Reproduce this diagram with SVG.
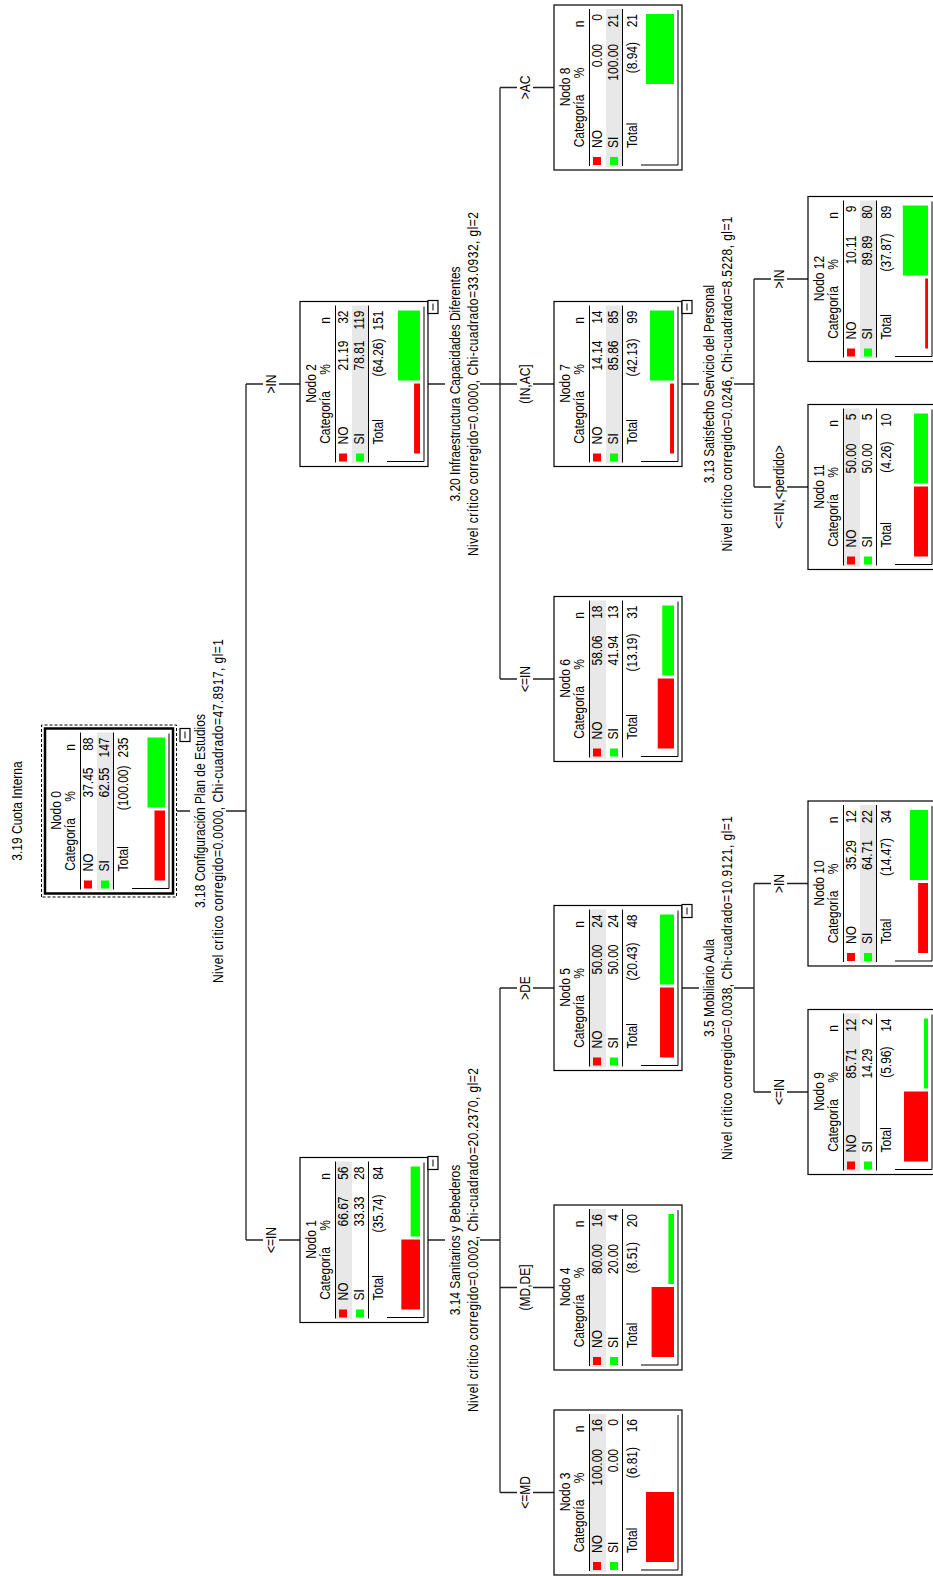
<svg xmlns="http://www.w3.org/2000/svg" width="933" height="1576" viewBox="0 0 933 1576">
<style>
.box{fill:#fff;stroke:#000;stroke-width:1.2}
.rootbox{fill:#fff;stroke:#000;stroke-width:2.5}
.dash{fill:none;stroke:#000;stroke-width:1;stroke-dasharray:3 2}
.t{font-family:"Liberation Sans",Arial,sans-serif;font-size:12px;fill:#000;transform-box:fill-box;transform-origin:50% 81%;transform:scaleY(1.18)}
.e{text-anchor:end}
.m{text-anchor:middle}
.hl{fill:#e8e8e8}
.sep{stroke:#000;stroke-width:1}
.r{fill:#ff0000}
.g{fill:#00ff00}
.ax{fill:none;stroke:#000;stroke-width:1}
.tog{fill:#fff;stroke:#000;stroke-width:1.2}
.cn{fill:none;stroke:#222;stroke-width:1.3}
</style>
<rect width="933" height="1576" fill="#fff"/>
<g transform="translate(0,1576) rotate(-90)">
<text class="t m" x="765" y="22">3.19 Cuota Interna</text>

<g id="connectors">
<path class="cn" d="M765 177V190M765 226V246M336 246H1192M336 246V263M336 279V300M1192 246V263M1192 279V300"/>
<path class="cn" d="M336 428V445M336 480V500M83.5 500H588M83.5 500V517M83.5 533V554M288.5 500V517M288.5 533V554M588 500V517M588 533V554"/>
<path class="cn" d="M1192 428V445M1192 480V500M897 500H1488.5M897 500V517M897 533V554M1192 500V517M1192 533V554M1488.5 500V517M1488.5 533V554"/>
<path class="cn" d="M588 682V699M588 734V754M484 754H692.5M484 754V771M484 787V808M692.5 754V771M692.5 787V808"/>
<path class="cn" d="M1192 682V699M1192 734V754M1089 754H1297M1089 754V771M1089 787V808M1297 754V771M1297 787V808"/>
<text class="t m" x="765" y="205">3.18 Configuración Plan de Estudios</text>
<text class="t m" x="765" y="223" textLength="344" lengthAdjust="spacing">Nivel crítico corregido=0.0000, Chi-cuadrado=47.8917, gl=1</text>
<text class="t m" x="336" y="460">3.14 Sanitarios y Bebederos</text>
<text class="t m" x="336" y="478" textLength="344" lengthAdjust="spacing">Nivel crítico corregido=0.0002, Chi-cuadrado=20.2370, gl=2</text>
<text class="t m" x="1192" y="460">3.20 Infraestructura Capacidades Diferentes</text>
<text class="t m" x="1192" y="478" textLength="344" lengthAdjust="spacing">Nivel crítico corregido=0.0000, Chi-cuadrado=33.0932, gl=2</text>
<text class="t m" x="588" y="714">3.5 Mobiliario Aula</text>
<text class="t m" x="588" y="732" textLength="344" lengthAdjust="spacing">Nivel crítico corregido=0.0038, Chi-cuadrado=10.9121, gl=1</text>
<text class="t m" x="1192" y="714">3.13 Satisfecho Servicio del Personal</text>
<text class="t m" x="1192" y="732" textLength="335" lengthAdjust="spacing">Nivel crítico corregido=0.0246, Chi-cuadrado=8.5228, gl=1</text>
<text class="t m" x="336" y="276">&lt;=IN</text>
<text class="t m" x="1192" y="276">&gt;IN</text>
<text class="t m" x="83.5" y="530">&lt;=MD</text>
<text class="t m" x="288.5" y="530">(MD,DE]</text>
<text class="t m" x="588" y="530">&gt;DE</text>
<text class="t m" x="897" y="530">&lt;=IN</text>
<text class="t m" x="1192" y="530">(IN,AC]</text>
<text class="t m" x="1488.5" y="530">&gt;AC</text>
<text class="t m" x="484" y="784">&lt;=IN</text>
<text class="t m" x="692.5" y="784">&gt;IN</text>
<text class="t m" x="1089" y="784">&lt;=IN,&lt;perdido&gt;</text>
<text class="t m" x="1297" y="784">&gt;IN</text>
</g>

<g id="node0">
<rect class="dash" x="679" y="41.5" width="172" height="135"/>
<g transform="translate(682.5,45)">
<rect class="rootbox" width="165" height="128"/>
<rect class="hl" x="3" y="52" width="158" height="16"/>
<line class="sep" x1="4" y1="35.5" x2="161" y2="35.5"/>
<line class="sep" x1="4" y1="68.5" x2="161" y2="68.5"/>
<text class="t m" x="83" y="16">Nodo 0</text>
<text class="t m" x="49" y="30">Categoría</text>
<text class="t m" x="97" y="30">%</text>
<text class="t m" x="146" y="30">n</text>
<rect class="r" x="5" y="39" width="8" height="8"/>
<text class="t" x="22" y="48">NO</text>
<text class="t e" x="126" y="48">37.45</text>
<text class="t e" x="156" y="48">88</text>
<rect class="g" x="5" y="56" width="8" height="8"/>
<text class="t" x="22" y="64.5">SI</text>
<text class="t e" x="126" y="64.5">62.55</text>
<text class="t e" x="156" y="64.5">147</text>
<text class="t" x="22" y="83">Total</text>
<text class="t e" x="128" y="83">(100.00)</text>
<text class="t e" x="156" y="83">235</text>
<rect class="r" x="13" y="109.51" width="70" height="10.49"/>
<rect class="g" x="86" y="102.49" width="70" height="17.51"/>
<path class="ax" d="M5 87V124H160"/>
<rect class="tog" x="152" y="135" width="13" height="10"/>
<line class="sep" x1="155" y1="140" x2="162" y2="140"/>
</g>
</g>

<g id="node1" transform="translate(253.5,300)">
<rect class="box" width="165" height="128"/>
<rect class="hl" x="3" y="36" width="158" height="16"/>
<line class="sep" x1="4" y1="35.5" x2="161" y2="35.5"/>
<line class="sep" x1="4" y1="68.5" x2="161" y2="68.5"/>
<text class="t m" x="83" y="16">Nodo 1</text>
<text class="t m" x="49" y="30">Categoría</text>
<text class="t m" x="97" y="30">%</text>
<text class="t m" x="146" y="30">n</text>
<rect class="r" x="5" y="39" width="8" height="8"/>
<text class="t" x="22" y="48">NO</text>
<text class="t e" x="126" y="48">66.67</text>
<text class="t e" x="156" y="48">56</text>
<rect class="g" x="5" y="56" width="8" height="8"/>
<text class="t" x="22" y="64.5">SI</text>
<text class="t e" x="126" y="64.5">33.33</text>
<text class="t e" x="156" y="64.5">28</text>
<text class="t" x="22" y="83">Total</text>
<text class="t e" x="128" y="83">(35.74)</text>
<text class="t e" x="156" y="83">84</text>
<rect class="r" x="13" y="101.33" width="70" height="18.67"/>
<rect class="g" x="86" y="110.67" width="70" height="9.33"/>
<path class="ax" d="M5 87V124H160"/>
<rect class="tog" x="153" y="128" width="13" height="10"/>
<line class="sep" x1="156" y1="133" x2="163" y2="133"/>
</g>

<g id="node2" transform="translate(1109.5,300)">
<rect class="box" width="165" height="128"/>
<rect class="hl" x="3" y="52" width="158" height="16"/>
<line class="sep" x1="4" y1="35.5" x2="161" y2="35.5"/>
<line class="sep" x1="4" y1="68.5" x2="161" y2="68.5"/>
<text class="t m" x="83" y="16">Nodo 2</text>
<text class="t m" x="49" y="30">Categoría</text>
<text class="t m" x="97" y="30">%</text>
<text class="t m" x="146" y="30">n</text>
<rect class="r" x="5" y="39" width="8" height="8"/>
<text class="t" x="22" y="48">NO</text>
<text class="t e" x="126" y="48">21.19</text>
<text class="t e" x="156" y="48">32</text>
<rect class="g" x="5" y="56" width="8" height="8"/>
<text class="t" x="22" y="64.5">SI</text>
<text class="t e" x="126" y="64.5">78.81</text>
<text class="t e" x="156" y="64.5">119</text>
<text class="t" x="22" y="83">Total</text>
<text class="t e" x="128" y="83">(64.26)</text>
<text class="t e" x="156" y="83">151</text>
<rect class="r" x="13" y="114.07" width="70" height="5.93"/>
<rect class="g" x="86" y="97.93" width="70" height="22.07"/>
<path class="ax" d="M5 87V124H160"/>
<rect class="tog" x="153" y="128" width="13" height="10"/>
<line class="sep" x1="156" y1="133" x2="163" y2="133"/>
</g>

<g id="node3" transform="translate(1,554)">
<rect class="box" width="165" height="128"/>
<rect class="hl" x="3" y="36" width="158" height="16"/>
<line class="sep" x1="4" y1="35.5" x2="161" y2="35.5"/>
<line class="sep" x1="4" y1="68.5" x2="161" y2="68.5"/>
<text class="t m" x="83" y="16">Nodo 3</text>
<text class="t m" x="49" y="30">Categoría</text>
<text class="t m" x="97" y="30">%</text>
<text class="t m" x="146" y="30">n</text>
<rect class="r" x="5" y="39" width="8" height="8"/>
<text class="t" x="22" y="48">NO</text>
<text class="t e" x="126" y="48">100.00</text>
<text class="t e" x="156" y="48">16</text>
<rect class="g" x="5" y="56" width="8" height="8"/>
<text class="t" x="22" y="64.5">SI</text>
<text class="t e" x="126" y="64.5">0.00</text>
<text class="t e" x="156" y="64.5">0</text>
<text class="t" x="22" y="83">Total</text>
<text class="t e" x="128" y="83">(6.81)</text>
<text class="t e" x="156" y="83">16</text>
<rect class="r" x="13" y="92" width="70" height="28"/>
<path class="ax" d="M5 87V124H160"/>
</g>

<g id="node4" transform="translate(206,554)">
<rect class="box" width="165" height="128"/>
<rect class="hl" x="3" y="36" width="158" height="16"/>
<line class="sep" x1="4" y1="35.5" x2="161" y2="35.5"/>
<line class="sep" x1="4" y1="68.5" x2="161" y2="68.5"/>
<text class="t m" x="83" y="16">Nodo 4</text>
<text class="t m" x="49" y="30">Categoría</text>
<text class="t m" x="97" y="30">%</text>
<text class="t m" x="146" y="30">n</text>
<rect class="r" x="5" y="39" width="8" height="8"/>
<text class="t" x="22" y="48">NO</text>
<text class="t e" x="126" y="48">80.00</text>
<text class="t e" x="156" y="48">16</text>
<rect class="g" x="5" y="56" width="8" height="8"/>
<text class="t" x="22" y="64.5">SI</text>
<text class="t e" x="126" y="64.5">20.00</text>
<text class="t e" x="156" y="64.5">4</text>
<text class="t" x="22" y="83">Total</text>
<text class="t e" x="128" y="83">(8.51)</text>
<text class="t e" x="156" y="83">20</text>
<rect class="r" x="13" y="97.6" width="70" height="22.4"/>
<rect class="g" x="86" y="114.4" width="70" height="5.6"/>
<path class="ax" d="M5 87V124H160"/>
</g>

<g id="node5" transform="translate(505.5,554)">
<rect class="box" width="165" height="128"/>
<rect class="hl" x="3" y="36" width="158" height="16"/>
<line class="sep" x1="4" y1="35.5" x2="161" y2="35.5"/>
<line class="sep" x1="4" y1="68.5" x2="161" y2="68.5"/>
<text class="t m" x="83" y="16">Nodo 5</text>
<text class="t m" x="49" y="30">Categoría</text>
<text class="t m" x="97" y="30">%</text>
<text class="t m" x="146" y="30">n</text>
<rect class="r" x="5" y="39" width="8" height="8"/>
<text class="t" x="22" y="48">NO</text>
<text class="t e" x="126" y="48">50.00</text>
<text class="t e" x="156" y="48">24</text>
<rect class="g" x="5" y="56" width="8" height="8"/>
<text class="t" x="22" y="64.5">SI</text>
<text class="t e" x="126" y="64.5">50.00</text>
<text class="t e" x="156" y="64.5">24</text>
<text class="t" x="22" y="83">Total</text>
<text class="t e" x="128" y="83">(20.43)</text>
<text class="t e" x="156" y="83">48</text>
<rect class="r" x="13" y="106" width="70" height="14"/>
<rect class="g" x="86" y="106" width="70" height="14"/>
<path class="ax" d="M5 87V124H160"/>
<rect class="tog" x="153" y="128" width="13" height="10"/>
<line class="sep" x1="156" y1="133" x2="163" y2="133"/>
</g>

<g id="node6" transform="translate(814.5,554)">
<rect class="box" width="165" height="128"/>
<rect class="hl" x="3" y="36" width="158" height="16"/>
<line class="sep" x1="4" y1="35.5" x2="161" y2="35.5"/>
<line class="sep" x1="4" y1="68.5" x2="161" y2="68.5"/>
<text class="t m" x="83" y="16">Nodo 6</text>
<text class="t m" x="49" y="30">Categoría</text>
<text class="t m" x="97" y="30">%</text>
<text class="t m" x="146" y="30">n</text>
<rect class="r" x="5" y="39" width="8" height="8"/>
<text class="t" x="22" y="48">NO</text>
<text class="t e" x="126" y="48">58.06</text>
<text class="t e" x="156" y="48">18</text>
<rect class="g" x="5" y="56" width="8" height="8"/>
<text class="t" x="22" y="64.5">SI</text>
<text class="t e" x="126" y="64.5">41.94</text>
<text class="t e" x="156" y="64.5">13</text>
<text class="t" x="22" y="83">Total</text>
<text class="t e" x="128" y="83">(13.19)</text>
<text class="t e" x="156" y="83">31</text>
<rect class="r" x="13" y="103.74" width="70" height="16.26"/>
<rect class="g" x="86" y="108.26" width="70" height="11.74"/>
<path class="ax" d="M5 87V124H160"/>
</g>

<g id="node7" transform="translate(1109.5,554)">
<rect class="box" width="165" height="128"/>
<rect class="hl" x="3" y="52" width="158" height="16"/>
<line class="sep" x1="4" y1="35.5" x2="161" y2="35.5"/>
<line class="sep" x1="4" y1="68.5" x2="161" y2="68.5"/>
<text class="t m" x="83" y="16">Nodo 7</text>
<text class="t m" x="49" y="30">Categoría</text>
<text class="t m" x="97" y="30">%</text>
<text class="t m" x="146" y="30">n</text>
<rect class="r" x="5" y="39" width="8" height="8"/>
<text class="t" x="22" y="48">NO</text>
<text class="t e" x="126" y="48">14.14</text>
<text class="t e" x="156" y="48">14</text>
<rect class="g" x="5" y="56" width="8" height="8"/>
<text class="t" x="22" y="64.5">SI</text>
<text class="t e" x="126" y="64.5">85.86</text>
<text class="t e" x="156" y="64.5">85</text>
<text class="t" x="22" y="83">Total</text>
<text class="t e" x="128" y="83">(42.13)</text>
<text class="t e" x="156" y="83">99</text>
<rect class="r" x="13" y="116.04" width="70" height="3.96"/>
<rect class="g" x="86" y="95.96" width="70" height="24.04"/>
<path class="ax" d="M5 87V124H160"/>
<rect class="tog" x="153" y="128" width="13" height="10"/>
<line class="sep" x1="156" y1="133" x2="163" y2="133"/>
</g>

<g id="node8" transform="translate(1406,554)">
<rect class="box" width="165" height="128"/>
<rect class="hl" x="3" y="52" width="158" height="16"/>
<line class="sep" x1="4" y1="35.5" x2="161" y2="35.5"/>
<line class="sep" x1="4" y1="68.5" x2="161" y2="68.5"/>
<text class="t m" x="83" y="16">Nodo 8</text>
<text class="t m" x="49" y="30">Categoría</text>
<text class="t m" x="97" y="30">%</text>
<text class="t m" x="146" y="30">n</text>
<rect class="r" x="5" y="39" width="8" height="8"/>
<text class="t" x="22" y="48">NO</text>
<text class="t e" x="126" y="48">0.00</text>
<text class="t e" x="156" y="48">0</text>
<rect class="g" x="5" y="56" width="8" height="8"/>
<text class="t" x="22" y="64.5">SI</text>
<text class="t e" x="126" y="64.5">100.00</text>
<text class="t e" x="156" y="64.5">21</text>
<text class="t" x="22" y="83">Total</text>
<text class="t e" x="128" y="83">(8.94)</text>
<text class="t e" x="156" y="83">21</text>
<rect class="g" x="86" y="92" width="70" height="28"/>
<path class="ax" d="M5 87V124H160"/>
</g>

<g id="node9" transform="translate(401.5,808)">
<rect class="box" width="165" height="128"/>
<rect class="hl" x="3" y="36" width="158" height="16"/>
<line class="sep" x1="4" y1="35.5" x2="161" y2="35.5"/>
<line class="sep" x1="4" y1="68.5" x2="161" y2="68.5"/>
<text class="t m" x="83" y="16">Nodo 9</text>
<text class="t m" x="49" y="30">Categoría</text>
<text class="t m" x="97" y="30">%</text>
<text class="t m" x="146" y="30">n</text>
<rect class="r" x="5" y="39" width="8" height="8"/>
<text class="t" x="22" y="48">NO</text>
<text class="t e" x="126" y="48">85.71</text>
<text class="t e" x="156" y="48">12</text>
<rect class="g" x="5" y="56" width="8" height="8"/>
<text class="t" x="22" y="64.5">SI</text>
<text class="t e" x="126" y="64.5">14.29</text>
<text class="t e" x="156" y="64.5">2</text>
<text class="t" x="22" y="83">Total</text>
<text class="t e" x="128" y="83">(5.96)</text>
<text class="t e" x="156" y="83">14</text>
<rect class="r" x="13" y="96" width="70" height="24"/>
<rect class="g" x="86" y="116" width="70" height="4"/>
<path class="ax" d="M5 87V124H160"/>
</g>

<g id="node10" transform="translate(610,808)">
<rect class="box" width="165" height="128"/>
<rect class="hl" x="3" y="52" width="158" height="16"/>
<line class="sep" x1="4" y1="35.5" x2="161" y2="35.5"/>
<line class="sep" x1="4" y1="68.5" x2="161" y2="68.5"/>
<text class="t m" x="83" y="16">Nodo 10</text>
<text class="t m" x="49" y="30">Categoría</text>
<text class="t m" x="97" y="30">%</text>
<text class="t m" x="146" y="30">n</text>
<rect class="r" x="5" y="39" width="8" height="8"/>
<text class="t" x="22" y="48">NO</text>
<text class="t e" x="126" y="48">35.29</text>
<text class="t e" x="156" y="48">12</text>
<rect class="g" x="5" y="56" width="8" height="8"/>
<text class="t" x="22" y="64.5">SI</text>
<text class="t e" x="126" y="64.5">64.71</text>
<text class="t e" x="156" y="64.5">22</text>
<text class="t" x="22" y="83">Total</text>
<text class="t e" x="128" y="83">(14.47)</text>
<text class="t e" x="156" y="83">34</text>
<rect class="r" x="13" y="110.12" width="70" height="9.88"/>
<rect class="g" x="86" y="101.88" width="70" height="18.12"/>
<path class="ax" d="M5 87V124H160"/>
</g>

<g id="node11" transform="translate(1006.5,808)">
<rect class="box" width="165" height="128"/>
<rect class="hl" x="3" y="36" width="158" height="16"/>
<line class="sep" x1="4" y1="35.5" x2="161" y2="35.5"/>
<line class="sep" x1="4" y1="68.5" x2="161" y2="68.5"/>
<text class="t m" x="83" y="16">Nodo 11</text>
<text class="t m" x="49" y="30">Categoría</text>
<text class="t m" x="97" y="30">%</text>
<text class="t m" x="146" y="30">n</text>
<rect class="r" x="5" y="39" width="8" height="8"/>
<text class="t" x="22" y="48">NO</text>
<text class="t e" x="126" y="48">50.00</text>
<text class="t e" x="156" y="48">5</text>
<rect class="g" x="5" y="56" width="8" height="8"/>
<text class="t" x="22" y="64.5">SI</text>
<text class="t e" x="126" y="64.5">50.00</text>
<text class="t e" x="156" y="64.5">5</text>
<text class="t" x="22" y="83">Total</text>
<text class="t e" x="128" y="83">(4.26)</text>
<text class="t e" x="156" y="83">10</text>
<rect class="r" x="13" y="106" width="70" height="14"/>
<rect class="g" x="86" y="106" width="70" height="14"/>
<path class="ax" d="M5 87V124H160"/>
</g>

<g id="node12" transform="translate(1214.5,808)">
<rect class="box" width="165" height="128"/>
<rect class="hl" x="3" y="52" width="158" height="16"/>
<line class="sep" x1="4" y1="35.5" x2="161" y2="35.5"/>
<line class="sep" x1="4" y1="68.5" x2="161" y2="68.5"/>
<text class="t m" x="83" y="16">Nodo 12</text>
<text class="t m" x="49" y="30">Categoría</text>
<text class="t m" x="97" y="30">%</text>
<text class="t m" x="146" y="30">n</text>
<rect class="r" x="5" y="39" width="8" height="8"/>
<text class="t" x="22" y="48">NO</text>
<text class="t e" x="126" y="48">10.11</text>
<text class="t e" x="156" y="48">9</text>
<rect class="g" x="5" y="56" width="8" height="8"/>
<text class="t" x="22" y="64.5">SI</text>
<text class="t e" x="126" y="64.5">89.89</text>
<text class="t e" x="156" y="64.5">80</text>
<text class="t" x="22" y="83">Total</text>
<text class="t e" x="128" y="83">(37.87)</text>
<text class="t e" x="156" y="83">89</text>
<rect class="r" x="13" y="117.17" width="70" height="2.83"/>
<rect class="g" x="86" y="94.83" width="70" height="25.17"/>
<path class="ax" d="M5 87V124H160"/>
</g>
</g>
</svg>
